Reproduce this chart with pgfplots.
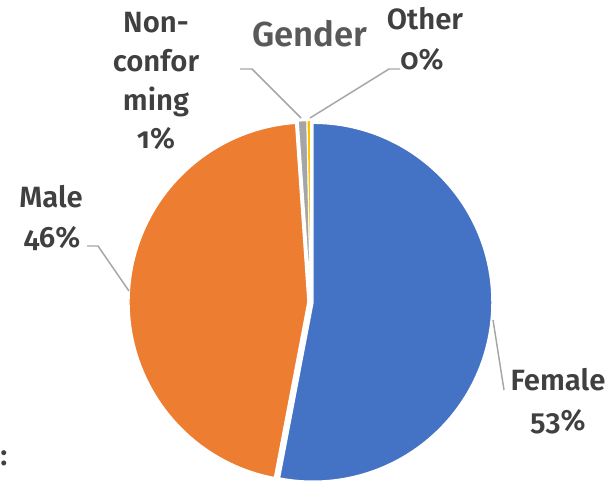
\documentclass[border=0pt]{standalone}
\usepackage{pgfplots}
\pgfplotsset{compat=1.18}
\usepackage{pgfplotstable}
\usepackage{fontspec}
\setmainfont{Fira Sans}[Numbers=OldStyle, BoldFont={Fira Sans SemiBold}]
\definecolor{pieblue}{HTML}{4472C4}
\definecolor{pieorange}{HTML}{ED7D31}
\definecolor{piegray}{HTML}{A5A5A5}
\definecolor{pieyellow}{HTML}{FFC000}
\definecolor{labtext}{HTML}{404040}
\definecolor{titletext}{HTML}{595959}
\definecolor{leader}{HTML}{A6A6A6}

\pgfplotstableread{
name value
Female 53.0
Male 45.9
Nonconforming 0.8
Other 0.3
}\genderdata
\pgfplotstablegetelem{0}{value}\of\genderdata \let\vA\pgfplotsretval
\pgfplotstablegetelem{1}{value}\of\genderdata \let\vB\pgfplotsretval
\pgfplotstablegetelem{2}{value}\of\genderdata \let\vC\pgfplotsretval
\pgfplotstablegetelem{3}{value}\of\genderdata \let\vD\pgfplotsretval
\pgfmathsetmacro{\aA}{90}
\pgfmathsetmacro{\aB}{\aA-3.6*\vA}
\pgfmathsetmacro{\aC}{\aB-3.6*\vB}
\pgfmathsetmacro{\aD}{\aC-3.6*\vC}
\pgfmathsetmacro{\aE}{\aD-3.6*\vD}
\def\cx{310.5}
\def\cy{180}
\def\ex{2.5}
\def\R{134.25pt}

\begin{document}
\begin{tikzpicture}
\begin{axis}[name=ax, x=0.75pt, y=0.75pt, xmin=0, xmax=613, ymin=0, ymax=482,
  hide axis, clip=false]
% slices
\fill[pieblue, draw=white, line width=1.1pt]
  (axis cs:{\cx+\ex*cos((\aA+\aB)/2)},{\cy+\ex*sin((\aA+\aB)/2)}) -- ++(\aA:\R)
  arc[start angle=\aA, end angle=\aB, radius=\R] -- cycle;
\fill[pieorange, draw=white, line width=1.1pt]
  (axis cs:{\cx+\ex*cos((\aB+\aC)/2)},{\cy+\ex*sin((\aB+\aC)/2)}) -- ++(\aB:\R)
  arc[start angle=\aB, end angle=\aC, radius=\R] -- cycle;
\fill[piegray, draw=white, line width=1.1pt]
  (axis cs:{\cx+\ex*cos((\aC+\aD)/2)},{\cy+\ex*sin((\aC+\aD)/2)}) -- ++(\aC:\R)
  arc[start angle=\aC, end angle=\aD, radius=\R] -- cycle;
\fill[pieyellow, draw=white, line width=0.6pt]
  (axis cs:{\cx+\ex*cos((\aD+\aE)/2)},{\cy+\ex*sin((\aD+\aE)/2)}) -- ++(\aD:\R)
  arc[start angle=\aD, end angle=\aE, radius=\R] -- cycle;
% leader lines
\draw[leader, line width=1.1pt] (axis cs:87,236) -- (axis cs:98,236) -- (axis cs:129,191);
\draw[leader, line width=1.1pt] (axis cs:493,162) -- (axis cs:504,92);
\draw[leader, line width=1.1pt] (axis cs:240,413) -- (axis cs:252,413) -- (axis cs:301,364);
\draw[leader, line width=1.1pt] (axis cs:310,364) -- (axis cs:389,413) -- (axis cs:400,413);
% title
\node[anchor=base, text=titletext, font=\fontsize{26}{31}\selectfont\bfseries, inner sep=0pt] at (axis cs:310,435) {Gender};
% labels
\tikzset{lab/.style={anchor=base, text=labtext, font=\fontsize{22}{27}\selectfont\bfseries, inner sep=0pt}}
\node[lab] at (axis cs:156,449) {Non-};
\node[lab] at (axis cs:156,410) {confor};
\node[lab] at (axis cs:156,371) {ming};
\node[lab] at (axis cs:156,333) {1\%};
\node[lab] at (axis cs:425,452) {Other};
\node[lab] at (axis cs:422,412) {0\%};
\node[lab] at (axis cs:51,274) {Male};
\node[lab] at (axis cs:52,235) {46\%};
\node[lab] at (axis cs:558,92) {Female};
\node[lab] at (axis cs:558,52) {53\%};
\node[lab] at (axis cs:4,17) {:};
\end{axis}
\pgfresetboundingbox
\useasboundingbox (ax.south west) rectangle (ax.north east);
\end{tikzpicture}
\end{document}
